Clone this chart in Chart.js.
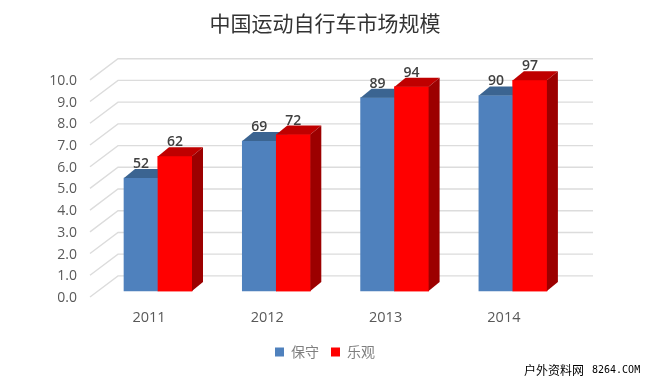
<!DOCTYPE html>
<html><head><meta charset="utf-8">
<style>html,body{margin:0;padding:0;background:#fff}#w{width:650px;height:381px}</style>
<script src="https://cdn.jsdelivr.net/npm/chart.js@4"></script></head>
<body><div id="w"><canvas id="c"></canvas></div>
<script>
const years = [2011, 2012, 2013, 2014];
const baoshou = [52, 69, 89, 90];
const leguan = [62, 72, 94, 97];
const yTicks = [0,1,2,3,4,5,6,7,8,9,10];
const CJK = '"Noto Sans CJK SC","Noto Sans",sans-serif';
const LAT = '"Open Sans","Noto Sans",sans-serif';
const sides = [{top:'#3b6491',side:'#3a6090'},{top:'#bf0000',side:'#9c0000'}];
const D = {dx:11, dy:9};

function draw3D(c,meta,col){
  meta.data.forEach(b=>{
    const l=b.x-b.width/2, r=b.x+b.width/2, y=b.y, base=b.base;
    c.fillStyle=col.top; c.beginPath(); c.moveTo(l,y); c.lineTo(l+D.dx,y-D.dy); c.lineTo(r+D.dx,y-D.dy); c.lineTo(r,y); c.closePath(); c.fill();
    c.fillStyle=col.side; c.beginPath(); c.moveTo(r,y); c.lineTo(r+D.dx,y-D.dy); c.lineTo(r+D.dx,base-D.dy); c.lineTo(r,base); c.closePath(); c.fill();
  });
}

const threeD = {
  id:'threeD',
  beforeDatasetsDraw(chart){
    const c=chart.ctx, g=chart.scales.yGrid, t=chart.scales.yTick, x=chart.scales.xTick;
    c.save(); c.strokeStyle='#dcdcdc'; c.lineWidth=1.4;
    yTicks.forEach(v=>{
      const yb=g.getPixelForValue(v), yf=t.getPixelForValue(v);
      c.beginPath(); c.moveTo(x.left,yf); c.lineTo(x.left+28,yb); c.lineTo(x.right,yb); c.stroke();
    });
    c.restore();
  },
  afterDatasetsDraw(chart){
    const c=chart.ctx;
    c.save();
    const m0=chart.getDatasetMeta(0), m1=chart.getDatasetMeta(1);
    draw3D(c,m0,sides[0]);
    m1.data.forEach(b=>b.draw(c));
    draw3D(c,m1,sides[1]);
    c.fillStyle='#404040'; c.font='600 14px '+LAT; c.textAlign='center'; c.textBaseline='middle';
    [baoshou,leguan].forEach((arr,i)=>{
      chart.getDatasetMeta(i).data.forEach((b,k)=>{ c.fillText(String(arr[k]), b.x, b.y-14); });
    });
    c.textAlign='left'; c.fillStyle='#000'; c.font='12px '+CJK; c.fillText('户外资料网',524,370);
    c.font='10px "DejaVu Sans Mono",monospace'; c.fillText('8264.COM',592,370);
    c.restore();
  }
};

const xMinBars = 2011-68/118.3, xMinTick = 2011-59/118.3, span = 503/118.3;
const mk = (arr)=>arr.map((v,i)=>({x:years[i], y:v/10}));

new Chart(document.getElementById('c'),{
  type:'bar',
  data:{datasets:[
    {label:'保守',data:mk(baoshou),backgroundColor:'#4f81bd',xAxisID:'xBar',yAxisID:'yBar',barThickness:34,borderWidth:0},
    {label:'乐观',data:mk(leguan),backgroundColor:'#ff0000',xAxisID:'xBar',yAxisID:'yBar',barThickness:34,borderWidth:0}
  ]},
  options:{
    responsive:true,maintainAspectRatio:false,animation:false,
    layout:{padding:{left:0,right:0,top:0,bottom:12}},
    scales:{
      xBar:{type:'linear',display:false,offset:false,bounds:'data',min:xMinBars,max:xMinBars+span},
      xTick:{type:'linear',position:'bottom',offset:false,bounds:'data',min:xMinTick,max:xMinTick+span,
        afterBuildTicks(s){s.ticks=years.map(v=>({value:v}));},
        afterFit(s){s.height=36;},
        grid:{display:false,drawTicks:false},border:{display:false},
        ticks:{autoSkip:false,maxRotation:0,padding:12,color:'#595959',font:{family:LAT,size:14.5},callback:v=>String(v)}},
      yTick:{type:'linear',position:'left',bounds:'data',min:0,max:238/21.6,
        afterBuildTicks(s){s.ticks=yTicks.map(v=>({value:v}));},
        afterFit(s){s.width=90;},
        grid:{display:false,drawTicks:false},border:{display:false},
        ticks:{padding:13,labelOffset:1,color:'#595959',font:{family:LAT,size:14},callback:v=>v.toFixed(1)}},
      yGrid:{type:'linear',position:'right',bounds:'data',min:-21/21.6,max:217/21.6,
        afterFit(s){s.width=57;},
        grid:{display:false,drawTicks:false},border:{display:false},ticks:{display:false}},
      yBar:{type:'linear',display:false,bounds:'data',min:-6/21.6,max:232/21.6}
    },
    plugins:{
      title:{display:true,text:'中国运动自行车市场规模',color:'#333333',font:{family:CJK,size:21,weight:'normal'},padding:{top:10,bottom:22.5}},
      legend:{position:'bottom',labels:{boxWidth:9,boxHeight:9,color:'#7f7f7f',font:{family:CJK,size:14},padding:12}},
      tooltip:{enabled:false}
    }
  },
  plugins:[threeD]
});
</script></body></html>
